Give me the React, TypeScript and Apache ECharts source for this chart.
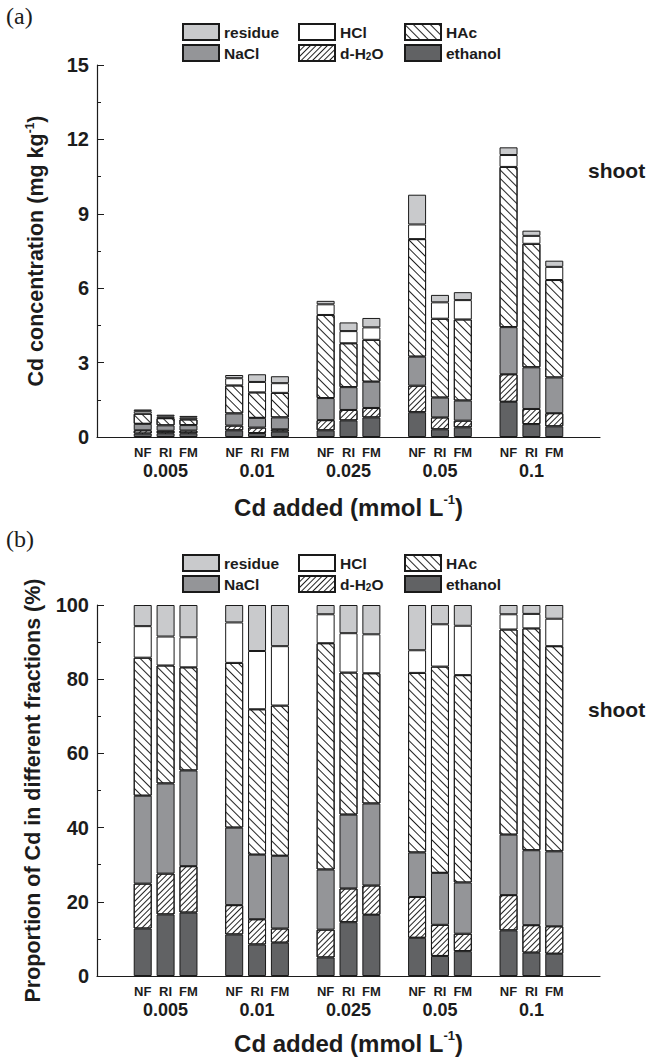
import React, { useEffect, useRef } from "react";
import * as echarts from "echarts";

// ---------- data ----------
const groups = ["0.005", "0.01", "0.025", "0.05", "0.1"];
const treatments = ["NF", "RI", "FM"];
const fractionsStack = ["ethanol", "d-H2O", "NaCl", "HAc", "HCl", "residue"];

// (a) Cd concentration (mg kg-1), order per group: NF, RI, FM
const concEthanol = [0.14, 0.15, 0.15, 0.27, 0.16, 0.22, 0.27, 0.67, 0.79, 1.0, 0.31, 0.39, 1.42, 0.52, 0.43];
const concDH2O = [0.13, 0.1, 0.11, 0.19, 0.22, 0.09, 0.41, 0.42, 0.38, 1.07, 0.48, 0.27, 1.11, 0.61, 0.53];
const concNaCl = [0.26, 0.22, 0.22, 0.49, 0.39, 0.48, 0.89, 0.92, 1.06, 1.17, 0.8, 0.81, 1.9, 1.68, 1.44];
const concHAc = [0.41, 0.29, 0.23, 1.13, 1.03, 0.99, 3.35, 1.77, 1.69, 4.74, 3.18, 3.27, 6.46, 4.98, 3.93];
const concHCl = [0.1, 0.07, 0.07, 0.29, 0.42, 0.39, 0.43, 0.49, 0.5, 0.59, 0.66, 0.78, 0.48, 0.32, 0.53];
const concResidue = [0.07, 0.07, 0.07, 0.13, 0.31, 0.28, 0.14, 0.35, 0.38, 1.2, 0.3, 0.32, 0.31, 0.21, 0.25];

// (b) proportion (%)
const pctEthanol = [12.8, 16.6, 17.1, 11.2, 8.5, 9.0, 5.0, 14.5, 16.5, 10.3, 5.4, 6.7, 12.3, 6.3, 6.0];
const pctDH2O = [12.1, 11.0, 12.5, 7.9, 6.8, 3.8, 7.5, 9.1, 7.9, 11.0, 8.4, 4.7, 9.5, 7.4, 7.4];
const pctNaCl = [23.7, 24.3, 25.8, 20.9, 17.4, 19.6, 16.2, 19.9, 22.1, 12.0, 14.0, 13.8, 16.3, 20.2, 20.2];
const pctHAc = [37.2, 31.8, 27.8, 44.4, 39.2, 40.5, 61.0, 38.3, 35.1, 48.4, 55.6, 55.9, 55.3, 59.8, 55.3];
const pctHCl = [8.5, 7.8, 8.1, 10.9, 15.7, 16.0, 7.8, 10.6, 10.5, 6.1, 11.4, 13.3, 4.1, 3.9, 7.4];
const pctResidue = [5.7, 8.5, 8.7, 4.7, 12.4, 11.1, 2.5, 7.6, 7.9, 12.2, 5.2, 5.6, 2.5, 2.4, 3.7];

const concTicks = { min: 0, max: 15, interval: 3 };
const pctTicks = { min: 0, max: 100, interval: 20 };

// ---------- layout helpers ----------
const SLOTS = 23; // 2 leading slots, 4 slots per group, trailing slots
const slotOf = (i: number) => 2 + Math.floor(i / 3) * 4 + (i % 3);
const categories: string[] = Array.from({ length: SLOTS }, () => "");
const groupAt: string[] = Array.from({ length: SLOTS }, () => "");
for (let i = 0; i < groups.length * 3; i++) {
  categories[slotOf(i)] = treatments[i % 3];
  if (i % 3 === 1) groupAt[slotOf(i)] = groups[Math.floor(i / 3)];
}
const toSlots = (vals: number[]) => {
  const out: any[] = Array.from({ length: SLOTS }, () => "-");
  vals.forEach((v, i) => (out[slotOf(i)] = v));
  return out;
};

const FONT = "'Liberation Sans', Arial, Helvetica, sans-serif";
const INK = "#1c1c1c";

const fractionStyle: Record<string, any> = {
  ethanol: { color: "#616264" },
  "d-H2O": {
    color: "#ffffff",
    decal: { symbol: "rect", symbolSize: 1, dashArrayX: [1, 0], dashArrayY: [1, 2.2], rotation: -Math.PI / 4, color: "#222" },
  },
  NaCl: { color: "#949598" },
  HAc: {
    color: "#ffffff",
    decal: { symbol: "rect", symbolSize: 1, dashArrayX: [1, 0], dashArrayY: [1, 4.4], rotation: Math.PI / 4, color: "#222" },
  },
  HCl: { color: "#ffffff" },
  residue: { color: "#c9cacc" },
};

const concData: Record<string, number[]> = {
  ethanol: concEthanol,
  "d-H2O": concDH2O,
  NaCl: concNaCl,
  HAc: concHAc,
  HCl: concHCl,
  residue: concResidue,
};
const pctData: Record<string, number[]> = {
  ethanol: pctEthanol,
  "d-H2O": pctDH2O,
  NaCl: pctNaCl,
  HAc: pctHAc,
  HCl: pctHCl,
  residue: pctResidue,
};

const grids = [
  { left: 97, top: 65, width: 503, height: 372 },
  { left: 97, top: 605, width: 503, height: 371 },
];
const xLabelMargins = [7, 7];
const xNameGaps = [56, 53];
const legendTops = [18, 549];
const legendCols = [
  { names: ["residue", "NaCl"], left: 177 },
  { names: ["HCl", "d-H2O"], left: 293 },
  { names: ["HAc", "ethanol"], left: 399 },
];

function buildOption() {
  const xAxes: any[] = grids.map((_, gi) => ({
    type: "category",
    gridIndex: gi,
    data: categories,
    boundaryGap: false,
    axisLine: { show: true, lineStyle: { color: INK, width: 1.2 } },
    axisTick: {
      show: true,
      inside: true,
      length: 4,
      interval: (idx: number) => categories[idx] !== "",
      lineStyle: { color: INK },
    },
    axisLabel: {
      show: true,
      interval: 0,
      margin: xLabelMargins[gi],
      formatter: (v: string, idx: number) => (v ? (groupAt[idx] ? `{t|${v}}\n{g|${groupAt[idx]}}` : `{t|${v}}`) : ""),
      rich: {
        t: { fontFamily: FONT, fontWeight: "bold", fontSize: 13, lineHeight: 16, color: INK },
        g: { fontFamily: FONT, fontWeight: "bold", fontSize: 18, lineHeight: 21, color: INK },
      },
    },
    splitLine: { show: false },
    name: "Cd added (mmol L{sup|-1})",
    nameLocation: "middle",
    nameGap: xNameGaps[gi],
    nameTextStyle: {
      fontFamily: FONT,
      fontWeight: "bold",
      fontSize: 24,
      lineHeight: 28,
      color: INK,
      rich: { sup: { fontFamily: FONT, fontWeight: "bold", fontSize: 13, verticalAlign: "top", color: INK } },
    },
  }));

  const yNames = ["Cd concentration (mg kg{sup|-1})", "Proportion of Cd in different fractions (%)"];
  const yTicks = [concTicks, pctTicks];
  const yAxes: any[] = grids.map((_, gi) => ({
    type: "value",
    gridIndex: gi,
    min: yTicks[gi].min,
    max: yTicks[gi].max,
    interval: yTicks[gi].interval,
    axisLine: { show: true, lineStyle: { color: INK, width: 1.2 } },
    axisTick: { show: true, inside: true, length: 7, lineStyle: { color: INK } },
    minorTick: { show: true, splitNumber: 2, length: 4, lineStyle: { color: INK } },
    splitLine: { show: false },
    axisLabel: { margin: 8, fontFamily: FONT, fontWeight: "bold", fontSize: 20, color: INK },
    name: yNames[gi],
    nameLocation: "middle",
    nameGap: 49,
    nameTextStyle: {
      fontFamily: FONT,
      fontWeight: "bold",
      fontSize: 21.5,
      lineHeight: 24,
      color: INK,
      rich: { sup: { fontFamily: FONT, fontWeight: "bold", fontSize: 12, verticalAlign: "top", color: INK } },
    },
  }));

  const series: any[] = [];
  [concData, pctData].forEach((dataSet, gi) => {
    fractionsStack.forEach((f) => {
      series.push({
        type: "bar",
        name: f,
        xAxisIndex: gi,
        yAxisIndex: gi,
        stack: "s" + gi,
        barWidth: 18,
        data: toSlots(dataSet[f]),
        itemStyle: { ...fractionStyle[f], borderColor: "#1a1a1a", borderWidth: 1 },
        emphasis: { disabled: true },
      });
    });
  });

  const legends: any[] = [];
  legendTops.forEach((top) => {
    legendCols.forEach((c) => {
      legends.push({
        data: c.names,
        orient: "vertical",
        left: c.left,
        top,
        icon: "rect",
        itemWidth: 36,
        itemHeight: 16,
        itemGap: 3,
        selectedMode: false,
        formatter: (n: string) => (n === "d-H2O" ? "d-H{sub|2}O" : n),
        textStyle: {
          fontFamily: FONT,
          fontWeight: "bold",
          fontSize: 15.5,
          lineHeight: 16,
          color: INK,
          rich: { sub: { fontFamily: FONT, fontWeight: "bold", fontSize: 10, verticalAlign: "bottom", lineHeight: 16, color: INK } },
        },
      });
    });
  });

  const graphics: any[] = [
    { id: "lblA", type: "text", left: 6, top: 4, z: 100, style: { text: "(a)", font: "24px 'Liberation Serif', 'Times New Roman', serif", fill: INK } },
    { id: "lblB", type: "text", left: 6, top: 527, z: 100, style: { text: "(b)", font: "24px 'Liberation Serif', 'Times New Roman', serif", fill: INK } },
    { id: "shootA", type: "text", left: 588, top: 160, z: 100, style: { text: "shoot", font: `bold 21px ${FONT}`, fill: INK } },
    { id: "shootB", type: "text", left: 588, top: 699, z: 100, style: { text: "shoot", font: `bold 21px ${FONT}`, fill: INK } },
  ];

  return {
    animation: false,
    backgroundColor: "#ffffff",
    grid: grids,
    xAxis: xAxes,
    yAxis: yAxes,
    legend: legends,
    series,
    graphic: graphics,
  };
}

export default function App() {
  const ref = useRef<HTMLDivElement>(null);
  useEffect(() => {
    if (!ref.current) return;
    const chart = echarts.init(ref.current, undefined, { renderer: "svg" });
    chart.setOption(buildOption());
    return () => chart.dispose();
  }, []);
  return <div ref={ref} style={{ position: "absolute", left: 0, top: 0, width: 670, height: 1059 }} />;
}
